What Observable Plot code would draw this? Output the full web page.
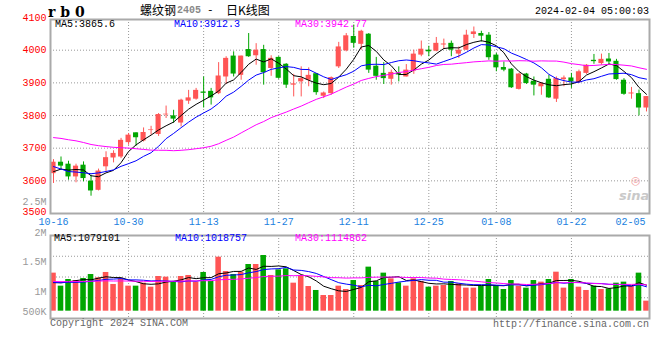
<!DOCTYPE html>
<html><head><meta charset="utf-8">
<script src="https://cdn.jsdelivr.net/npm/d3@7"></script>
<script src="https://cdn.jsdelivr.net/npm/@observablehq/plot@0.6"></script>
<style>
html,body{margin:0;padding:0;background:#fff;}
#wrap{position:relative;width:660px;height:360px;overflow:hidden;background:#fff;font-family:"Liberation Mono","DejaVu Sans Mono",monospace;font-size:10px;}
.t{position:absolute;white-space:pre;line-height:1;}
#wrap svg{position:absolute;left:0;}
</style></head><body><div id="wrap"></div>
<script>
// ---- data ----
const tickIdx    = [0, 10, 20, 30, 40, 50, 59, 69, 79];
const tickLabels = ["10-16","10-30","11-13","11-27","12-11","12-25","01-08","01-22","02-05"];
const priceTicks = [3500, 3600, 3700, 3800, 3900, 4000, 4100];
const volTicks   = [1000000, 1500000, 2500000];
const volTopTick = [2000000];
const volLowTick = [500000];

const open = [3622,3657,3651,3612,3648,3599,3571,3643,3670,3673,
  3717,3747,3722,3754,3742,3802,3799,3777,3844,3850,
  3872,3874,3867,3918,3982,3923,4002,3983,4002,3944,
  3978,3957,3893,3903,3908,3928,3859,3867,3949,3998,
  4042,4018,4049,3951,3929,3911,3929,3918,3936,3985,
  4000,3997,4016,4021,3988,4000,4048,4051,4046,3985,
  3947,3942,3880,3927,3905,3888,3911,3850,3910,3915,
  3901,3929,3969,3959,3973,3966,3908,3866,3867,3823];
const close = [3657,3645,3612,3645,3607,3569,3630,3671,3684,3724,
  3740,3732,3748,3756,3803,3804,3789,3847,3854,3877,
  3868,3854,3921,3975,3927,3982,3980,4000,3931,3975,
  3914,3893,3897,3913,3923,3870,3869,3916,4010,4044,
  4021,4058,3939,3920,3913,3932,3924,3939,3988,4003,
  3995,4021,4019,4000,4000,4046,4056,4043,3977,3946,
  3939,3885,3927,3898,3893,3898,3854,3913,3915,3903,
  3934,3954,3965,3972,3964,3910,3865,3869,3823,3858];
const high = [3665,3673,3660,3651,3658,3617,3636,3689,3692,3730,
  3745,3747,3762,3767,3806,3829,3816,3850,3877,3883,
  3918,3883,3962,3980,3995,3982,4051,4020,4015,3983,
  3980,3959,3926,3949,3946,3928,3872,3918,4024,4051,
  4077,4061,4051,3978,3962,3939,3949,3956,4000,4028,
  4012,4039,4034,4028,4010,4061,4071,4058,4054,3990,
  3964,3944,3929,3929,3918,3901,3923,3918,3921,3929,
  3939,3956,3987,3988,3990,3972,3913,3886,3878,3858];
const low = [3592,3633,3602,3594,3597,3553,3569,3627,3655,3668,
  3709,3706,3719,3740,3736,3791,3776,3765,3834,3847,
  3823,3832,3864,3895,3918,3908,3978,3954,3893,3920,
  3911,3883,3857,3857,3888,3862,3852,3862,3944,3995,
  4006,4000,3929,3908,3895,3893,3903,3918,3926,3980,
  3980,3995,4002,3980,3975,4000,4036,4025,3969,3934,
  3934,3883,3878,3895,3860,3862,3852,3840,3888,3883,
  3898,3926,3957,3954,3956,3908,3862,3850,3799,3811];
const volume = [1306,1089,1200,1183,1217,1283,1228,1317,1117,1211,
  1089,1089,1139,1072,1250,1239,1156,1250,1267,1156,
  1317,1167,1572,1333,1283,1322,1450,1450,1600,1267,
  1361,1378,1139,1267,1083,1017,933,933,1089,1033,
  1183,1100,1406,1167,1306,1211,1144,1089,1211,1167,
  1072,1089,1100,1167,1128,1056,1056,1089,1200,1100,
  1033,1183,1089,1056,1183,1156,1200,1322,1056,1200,
  1072,1017,1089,1033,1044,1139,1156,1089,1306,839].map(v => v * 1000);
// closes / volumes of the 29 sessions before 10-16 (estimated from the MA lines)
const preClose = [3720,3735,3745,3760,3750,3740,3755,3750,3762,
  3775,3790,3812,3820,3815,3808,3826,3810,3795,3790,3777,
  3720,3690,3660,3630,3597,3605,3628,3635,3615];
const preVolume = [1150,1180,1120,1210,1160,1190,1140,1230,1170,1150,
  1200,1130,1180,1160,1210,1140,1190,1170,1150,1220,
  1160,1130,1190,1170,1150,1100,1120,1080,1130].map(v => v * 1000);

// ---- derived ----
const RED = "#ff5555", GREEN = "#00a600", FONT = "'Liberation Mono','DejaVu Sans Mono',monospace";
const N = close.length;
const idx = d3.range(N);
const bars = idx.map(i => ({i, o: open[i], h: high[i], l: low[i], c: close[i], v: volume[i],
  col: close[i] >= open[i] ? RED : GREEN}));
function ma(pre, arr, n) {
  const all = pre.concat(arr), off = pre.length;
  return idx.map(i => ({i, v: d3.mean(all.slice(off + i - n + 1, off + i + 1))}));
}
const mas = [[5, "#000"], [10, "#0000ff"], [30, "#ff00ff"]];
const lab = i => tickLabels[tickIdx.indexOf(i)];
const volFmt = d => d >= 1e6 ? (d / 1e6) + "M" : (d / 1e3) + "K";
const grid = {stroke: "#999", strokeOpacity: 1, strokeDasharray: "1,2"};
const xDom = [-0.4, 79.4];
const axY = {anchor: "left", tickSize: 0, tickPadding: 4, fontSize: 10, label: null};
const axX = {anchor: "bottom", tickSize: 0, tickPadding: 4, fill: "#1a7fe0", fontSize: 10, label: null, tickFormat: lab};

const wrap = document.getElementById("wrap");

// ---- price panel ----
const price = Plot.plot({
  width: 660, height: 230,
  marginLeft: 50, marginRight: 11, marginTop: 19, marginBottom: 17,
  style: {background: "transparent", fontFamily: FONT, fontSize: "10px", overflow: "visible"},
  x: {domain: xDom, axis: null},
  y: {domain: [3500, 4094], axis: null},
  marks: [
    Plot.gridY(priceTicks.slice(1, -1), grid),
    Plot.gridX(tickIdx.slice(1, -1), grid),
    Plot.ruleX(bars, {x: "i", y1: "l", y2: "h", stroke: "col", strokeWidth: 1}),
    Plot.rect(bars, {x1: d => d.i - 0.34, x2: d => d.i + 0.34, y1: "o", y2: "c", fill: "col"}),
    ...mas.map(([n, c]) => Plot.line(ma(preClose, close, n), {x: "i", y: "v", stroke: c, strokeWidth: 1})),
    Plot.frame({stroke: "#aaa", strokeWidth: 2}),
    Plot.axisY(priceTicks.slice(1), {...axY, fill: "#ff0000", tickFormat: d => String(d)}),
    Plot.axisY(priceTicks.slice(0, 1), {...axY, fill: "#ff0000", dy: -2, tickFormat: d => String(d)}),
    Plot.axisX(tickIdx.slice(0, -1), axX),
    Plot.axisX(tickIdx.slice(-1), {...axX, textAnchor: "end", dx: -1})
  ]
});
price.style.top = "0px";
wrap.appendChild(price);

// ---- volume panel ----
const vDom = [550000, 1933333];
const vGrid = [1, 2, 3].map(k => vDom[0] + (vDom[1] - vDom[0]) * k / 4);
const volBase = 672000;
const vol = Plot.plot({
  width: 660, height: 130,
  marginLeft: 50, marginRight: 11, marginTop: 40, marginBottom: 7,
  style: {background: "transparent", fontFamily: FONT, fontSize: "10px", overflow: "visible"},
  x: {domain: xDom, axis: null},
  y: {domain: vDom, axis: null},
  marks: [
    Plot.gridY(vGrid, grid),
    Plot.gridX(tickIdx.slice(1, -1), grid),
    Plot.rect(bars, {x1: d => d.i - 0.37, x2: d => d.i + 0.37, y1: volBase, y2: "v", fill: "col"}),
    ...mas.map(([n, c]) => Plot.line(ma(preVolume, volume, n), {x: "i", y: "v", stroke: c, strokeWidth: 1})),
    Plot.frame({stroke: "#aaa", strokeWidth: 2}),
    Plot.axisY(volTicks, {...axY, fill: "#999", tickFormat: volFmt}),
    Plot.axisY(volTopTick, {...axY, fill: "#999", dy: 1.5, tickFormat: volFmt}),
    Plot.axisY(volLowTick, {...axY, fill: "#999", dy: -10, tickFormat: volFmt})
  ]
});
vol.style.top = "195px";
wrap.appendChild(vol);

// ---- texts ----
function txt(s, x, y, css) {
  const d = document.createElement("div");
  d.className = "t"; d.textContent = s;
  d.style.left = x + "px"; d.style.top = y + "px";
  Object.assign(d.style, css || {});
  wrap.appendChild(d); return d;
}
txt("r b 0", 48, 5, {fontFamily: "'DejaVu Serif',serif", fontWeight: "bold", fontSize: "14px", color: "#000"});
txt("螺纹钢", 140, 4, {fontFamily: "'Noto Sans CJK SC',sans-serif", fontSize: "12px", color: "#000"});
txt("2405", 177, 6, {fontSize: "10px", color: "#888", fontWeight: "bold"});
txt("-", 207, 5, {fontSize: "11px", color: "#000"});
txt("日K线图", 226, 4, {fontFamily: "'Noto Sans CJK SC',sans-serif", fontSize: "12px", color: "#000"});
txt("2024-02-04 05:00:03", 535, 7, {fontSize: "10px", color: "#000"});
txt("MA5:3865.6", 55, 20, {color: "#000"});
txt("MA10:3912.3", 174, 20, {color: "#0000ff"});
txt("MA30:3942.77", 295, 20, {color: "#ff00ff"});
txt("MA5:1079101", 54, 234, {color: "#000"});
txt("MA10:1018757", 175, 234, {color: "#0000ff"});
txt("MA30:1114862", 295, 234, {color: "#ff00ff"});
txt("Copyright 2024 SINA.COM", 50, 319, {color: "#666"});
txt("http://finance.sina.com.cn", 493, 320, {color: "#666"});
txt("◎", 631, 175, {fontFamily: "'DejaVu Sans',sans-serif", fontSize: "11px", color: "#f3a5a5"});
txt("sina", 619, 189, {fontFamily: "'DejaVu Sans',sans-serif", fontStyle: "italic", fontWeight: "bold", fontSize: "13px", color: "#c9c9c9"});
</script></body></html>
